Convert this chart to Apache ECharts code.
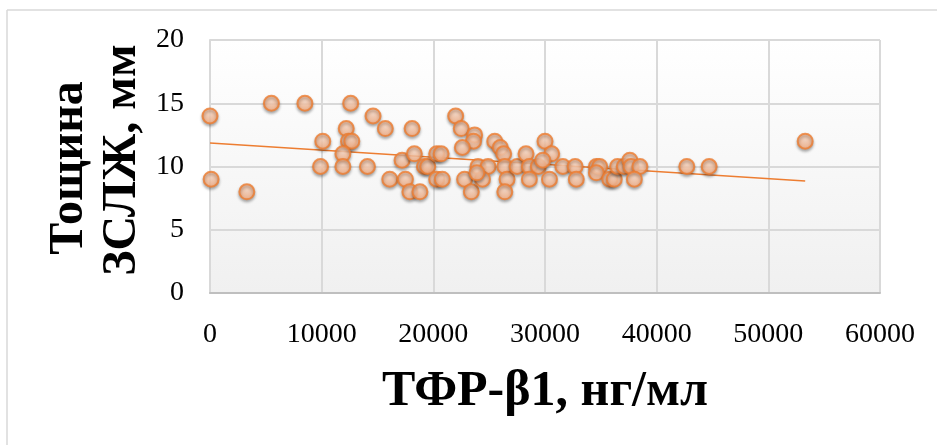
<!DOCTYPE html>
<html>
<head>
<meta charset="utf-8">
<script src="https://cdn.jsdelivr.net/npm/echarts@6/dist/echarts.min.js"></script>
<style>
  html, body { margin: 0; padding: 0; background: #fff; }
  #chart { width: 937px; height: 445px; }
</style>
</head>
<body>
<div id="chart"></div>
<script>
// ТФР-β1 (нг/мл) vs thickness (мм)
const tgfValues = [
  0, 100, 3300, 5500, 8500, 10100, 9900, 12600, 12200, 12400, 12700, 11900, 11900,
  14600, 15700, 14100, 16100, 17200, 17500, 18100, 18300, 17900, 18800, 19200, 19500,
  20300, 20700, 20300, 20800, 22000, 22500, 23700, 23600, 22600, 22800, 23400, 24000,
  24900, 24400, 23900, 25500, 26000, 26300, 26400, 26600, 26400, 27500, 28300, 28600,
  29400, 28600, 30000, 30600, 29800, 30400, 31600, 32700, 32800, 34600, 34900, 34600,
  35800, 36200, 36500, 37100, 37600, 37700, 38500, 38000, 42700, 44700, 53300
]
const thicknessValues = [
  14, 9, 8, 15, 15, 12, 10, 15, 13, 12, 12, 11, 10,
  14, 13, 10, 9, 10.5, 9, 13, 11, 8, 8, 10, 10,
  11, 11, 9, 9, 14, 13, 12.5, 12, 11.5, 9, 8, 10,
  10, 9, 9.5, 12, 11.5, 11, 10, 9, 8, 10, 11, 10,
  10, 9, 12, 11, 10.5, 9, 10, 10, 9, 10, 10, 9.5,
  9, 9, 10, 10, 10.5, 10, 10, 9, 10, 10, 12
]
// linear trend line ends
const trendX = [0, 53300]
const trendY = [11.85, 8.85]

const xTicks = [0, 10000, 20000, 30000, 40000, 50000, 60000]
const yTicks = [0, 5, 10, 15, 20]
const yTitleLines = ['Тощина', 'ЗСЛЖ, мм']

const points = tgfValues.map((x, i) => [x, thicknessValues[i]])
const trend = trendX.map((x, i) => [x, trendY[i]])

const chart = echarts.init(document.getElementById('chart'))
const serif = '"Liberation Serif", "DejaVu Serif", serif'
const titleStyle = { fontFamily: serif, fontWeight: 'bold', fontSize: 48, fill: '#000', align: 'center', verticalAlign: 'middle' }

chart.setOption({
  animation: false,
  grid: {
    left: 210,
    right: 57,
    top: 40,
    bottom: 152,
    show: true,
    borderWidth: 0,
    backgroundColor: {
      type: 'linear', x: 0, y: 0, x2: 0, y2: 1,
      colorStops: [{ offset: 0, color: '#ffffff' }, { offset: 1, color: '#f0f0f0' }]
    }
  },
  graphic: [
    { type: 'line', shape: { x1: 7, y1: 10, x2: 937, y2: 10 }, style: { stroke: '#d9d9d9', lineWidth: 1.5 } },
    { type: 'line', shape: { x1: 7, y1: 10, x2: 7, y2: 445 }, style: { stroke: '#d9d9d9', lineWidth: 1.5 } },
    // y axis title, two rotated lines
    { type: 'text', x: 70, y: 168, rotation: Math.PI / 2, style: Object.assign({ text: yTitleLines[0] }, titleStyle) },
    { type: 'text', x: 123, y: 160, rotation: Math.PI / 2, style: Object.assign({ text: yTitleLines[1] }, titleStyle) }
  ],
  xAxis: {
    type: 'value',
    min: xTicks[0],
    max: xTicks[xTicks.length - 1],
    interval: 10000,
    name: 'ТФР-β1, нг/мл',
    nameLocation: 'middle',
    nameGap: 74,
    nameTextStyle: { fontFamily: serif, fontWeight: 'bold', fontSize: 50, color: '#000' },
    axisLine: { show: true, lineStyle: { color: '#bfbfbf', width: 2 } },
    axisTick: { show: false },
    axisLabel: {
      fontFamily: serif, fontSize: 28, color: '#000', margin: 28,
      formatter: v => String(v)
    },
    splitLine: { show: true, lineStyle: { color: '#d9d9d9', width: 2 } }
  },
  yAxis: {
    type: 'value',
    min: yTicks[0],
    max: yTicks[yTicks.length - 1],
    interval: 5,
    axisLine: { show: true, lineStyle: { color: '#d9d9d9', width: 2 } },
    axisTick: { show: false },
    axisLabel: { fontFamily: serif, fontSize: 28, color: '#000', margin: 26 },
    splitLine: { show: true, lineStyle: { color: '#d9d9d9', width: 2 } }
  },
  series: [
    {
      type: 'line',
      data: trend,
      symbol: 'none',
      lineStyle: { color: '#ED7D31', width: 1.5 },
      z: 3
    },
    {
      type: 'scatter',
      data: points,
      symbolSize: 15,
      itemStyle: {
        color: {
          type: 'radial', x: 0.5, y: 0.4, r: 0.6,
          colorStops: [{ offset: 0, color: '#ffd9c2' }, { offset: 1, color: '#f9ab7c' }]
        },
        borderColor: '#ED7D31',
        borderWidth: 2,
        shadowBlur: 3,
        shadowOffsetY: 2,
        shadowColor: 'rgba(0,0,0,0.35)'
      },
      z: 4
    }
  ]
})
</script>
</body>
</html>
